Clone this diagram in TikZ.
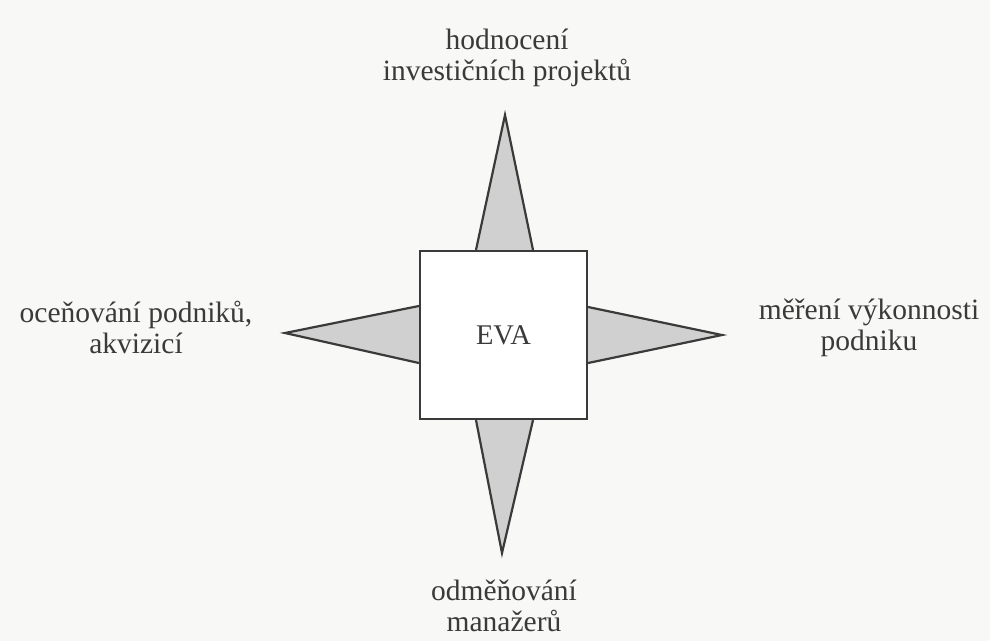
\documentclass[tikz,border=0pt]{standalone}
\usepackage{fontspec}
\setmainfont{Liberation Serif}
\usetikzlibrary{backgrounds}
\definecolor{paper}{RGB}{248,248,247}
\definecolor{ink}{RGB}{58,58,58}
\definecolor{spikefill}{RGB}{208,208,208}
\begin{document}
\begin{tikzpicture}[x=1pt,y=-1pt,
  outline/.style={draw=ink,line width=2.2pt,line join=miter},
  spike/.style={outline,fill=spikefill},
  hub/.style={outline,fill=white,minimum width=167pt,minimum height=168pt,inner sep=0pt,
    font=\fontsize{28.5}{30}\selectfont,text=ink},
  label/.style={anchor=north,inner sep=0pt,align=center,text=ink,
    font=\fontsize{29.5}{31}\selectfont}]
  \useasboundingbox (0,0) rectangle (990,641);

  % central box
  \node[hub] (eva) at (503.5,335) {EVA};

  % spike tips
  \coordinate (tipN) at (505,115);
  \coordinate (tipS) at (502,553);
  \coordinate (tipW) at (285,333);
  \coordinate (tipE) at (722,335);

  % page and spikes, behind the box
  \begin{pgfonlayer}{background}
    \fill[paper] (0,0) rectangle (990,641);
    \path[spike] ([xshift=-27.5pt]eva.north) -- (tipN) -- ([xshift=29.5pt]eva.north);
    \path[spike] ([xshift=-27.5pt]eva.south) -- (tipS) -- ([xshift=29.5pt]eva.south);
    \path[spike] ([yshift=29pt]eva.west) -- (tipW) -- ([yshift=-28pt]eva.west);
    \path[spike] ([yshift=28pt]eva.east) -- (tipE) -- ([yshift=-28pt]eva.east);
  \end{pgfonlayer}

  % labels
  \node[label] (lblN) at (507,29) {\rule{0pt}{20pt}hodnocení\\investičních projektů};
  \node[label] (lblW) at (136,301) {\rule{0pt}{20pt}oceňování podniků,\\akvizicí};
  \node[label] (lblE) at (869,299) {\rule{0pt}{20pt}měření výkonnosti\\podniku};
  \node[label] (lblS) at (504,580) {\rule{0pt}{20pt}odměňování\\manažerů};
\end{tikzpicture}
\end{document}
